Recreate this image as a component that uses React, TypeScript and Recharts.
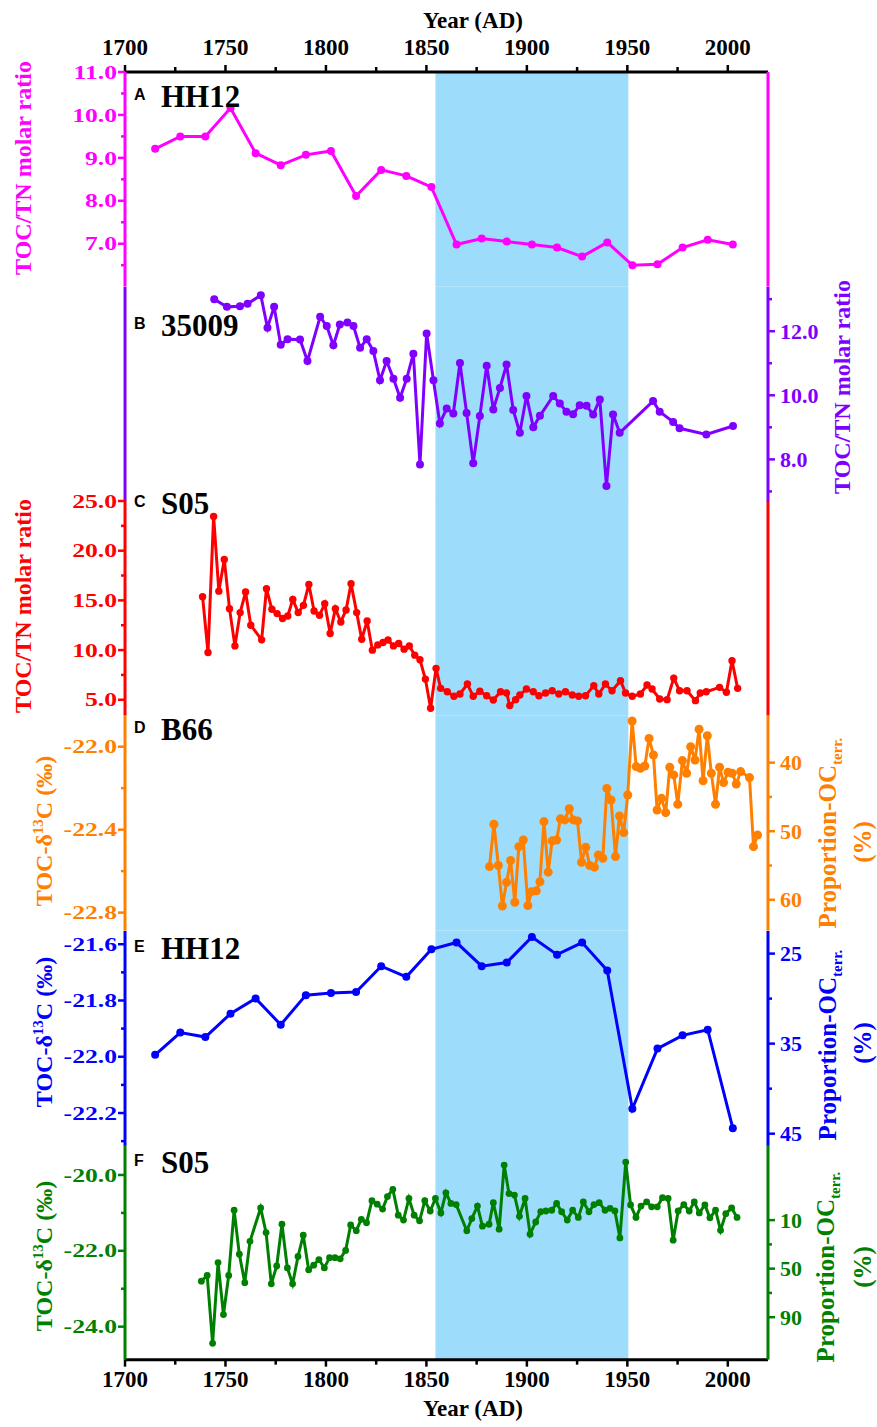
import React from "react";
import { LineChart, Line, XAxis, YAxis, ReferenceArea } from "recharts";

// Six stacked panels sharing one year axis (1700-2020)

const SERIF = "'Times New Roman', 'Liberation Serif', serif";
const SANS = "Arial, 'Liberation Sans', sans-serif";

const PINK = "#FF00FF";
const PURPLE = "#8000FF";
const RED = "#FF0000";
const ORANGE = "#FF8000";
const BLUE = "#0000FF";
const GREEN = "#008000";
const SHADE = "#9ddcfa";

// HH12 core (panels A and E)
const hh12Years = [1715, 1727.5, 1740, 1752.5, 1765, 1777.5, 1790, 1802.5, 1815, 1827.5, 1840, 1852.5, 1865, 1877.5, 1890, 1902.5, 1915, 1927.5, 1940, 1952.5, 1965, 1977.5, 1990, 2002.5];
const hh12Ratio = [9.21, 9.5, 9.5, 10.16, 9.11, 8.83, 9.07, 9.16, 8.11, 8.72, 8.58, 8.32, 6.98, 7.12, 7.05, 6.98, 6.91, 6.7, 7.03, 6.5, 6.52, 6.91, 7.09, 6.98];
const hh12D13C = [-21.993, -21.914, -21.93, -21.847, -21.793, -21.886, -21.781, -21.773, -21.77, -21.678, -21.716, -21.618, -21.594, -21.678, -21.665, -21.574, -21.637, -21.594, -21.693, -22.185, -21.971, -21.924, -21.904, -22.254];

// 35009 core (panel B)
const c35009Years = [1744.4, 1750.7, 1757.2, 1761.0, 1767.6, 1770.9, 1774.2, 1777.5, 1780.9, 1787.1, 1790.8, 1797.1, 1800.4, 1803.7, 1806.9, 1810.7, 1813.7, 1817.0, 1820.3, 1823.6, 1826.9, 1830.2, 1833.6, 1836.9, 1840.2, 1843.5, 1846.8, 1850.1, 1853.5, 1856.7, 1860.1, 1863.4, 1866.7, 1870.0, 1873.3, 1876.6, 1880.0, 1883.3, 1886.6, 1889.9, 1893.2, 1896.5, 1899.8, 1903.2, 1906.5, 1913.1, 1916.4, 1919.7, 1923.0, 1926.3, 1929.7, 1933.0, 1936.3, 1939.6, 1942.9, 1946.2, 1962.8, 1966.1, 1972.8, 1976.0, 1989.3, 2002.6];
const c35009Ratio = [13.0, 12.76, 12.78, 12.86, 13.12, 12.11, 12.76, 11.58, 11.75, 11.74, 11.07, 12.45, 12.16, 11.56, 12.21, 12.27, 12.16, 11.48, 11.75, 11.38, 10.47, 11.07, 10.52, 9.92, 10.52, 11.3, 7.84, 11.93, 10.47, 9.12, 9.59, 9.43, 11.01, 9.45, 7.88, 9.35, 10.92, 9.56, 10.23, 10.96, 9.54, 8.83, 9.98, 9.0, 9.36, 9.98, 9.74, 9.49, 9.41, 9.69, 9.67, 9.4, 9.87, 7.17, 9.4, 8.83, 9.82, 9.49, 9.17, 8.97, 8.78, 9.04];

// S05 core, TOC/TN (panel C)
const s05RatioYears = [1738.6, 1741.3, 1744.1, 1746.7, 1749.4, 1752.0, 1754.7, 1757.3, 1760.0, 1762.6, 1768.0, 1770.4, 1773.1, 1775.7, 1778.4, 1781.0, 1783.5, 1786.2, 1788.8, 1791.5, 1794.1, 1796.8, 1799.4, 1802.1, 1804.7, 1807.4, 1810.0, 1812.5, 1815.3, 1817.8, 1820.5, 1823.1, 1825.8, 1828.4, 1830.9, 1833.6, 1836.2, 1838.9, 1841.5, 1844.2, 1846.8, 1849.5, 1852.1, 1854.8, 1857.1, 1860.4, 1863.7, 1866.7, 1870.4, 1873.3, 1876.6, 1880.0, 1883.3, 1886.9, 1889.9, 1891.5, 1894.4, 1896.5, 1899.8, 1903.2, 1906.0, 1909.3, 1912.6, 1915.9, 1919.2, 1922.6, 1925.8, 1929.2, 1933.3, 1935.8, 1939.1, 1942.4, 1946.6, 1949.1, 1952.4, 1956.5, 1959.8, 1962.3, 1966.1, 1969.8, 1973.1, 1976.0, 1979.7, 1983.9, 1986.3, 1989.3, 1995.9, 1999.3, 2002.1, 2004.9];
const s05Ratio = [15.37, 9.76, 23.45, 15.93, 19.11, 14.17, 10.42, 13.77, 15.84, 12.5, 11.03, 16.17, 14.1, 13.67, 13.17, 13.43, 15.1, 13.77, 14.5, 16.6, 13.93, 13.5, 14.67, 11.66, 14.17, 12.83, 14.03, 16.67, 13.77, 11.09, 12.93, 9.99, 10.52, 10.76, 11.02, 10.42, 10.66, 10.09, 10.42, 9.49, 9.02, 7.08, 4.15, 8.16, 6.15, 5.81, 5.35, 5.58, 6.58, 5.35, 5.85, 5.41, 4.98, 5.81, 5.68, 4.41, 5.01, 5.48, 6.08, 5.81, 5.41, 5.68, 5.91, 5.58, 5.81, 5.48, 5.35, 5.41, 6.41, 5.58, 6.58, 5.91, 6.92, 5.68, 5.35, 5.58, 6.48, 6.08, 5.08, 5.01, 7.18, 5.91, 5.91, 4.91, 5.68, 5.81, 6.25, 5.75, 8.92, 6.15];

// B66 core (panel D)
const b66Years = [1881.4, 1883.6, 1885.8, 1887.8, 1889.9, 1891.9, 1894.0, 1896.0, 1898.2, 1900.5, 1902.3, 1904.7, 1906.5, 1908.5, 1910.6, 1912.6, 1914.8, 1916.7, 1918.9, 1921.1, 1923.1, 1925.2, 1927.2, 1929.3, 1931.3, 1933.6, 1935.6, 1937.8, 1939.8, 1941.9, 1944.1, 1946.1, 1948.2, 1950.2, 1952.4, 1954.4, 1956.5, 1958.7, 1960.8, 1963.0, 1964.8, 1967.0, 1969.1, 1971.1, 1973.1, 1975.1, 1977.4, 1979.5, 1981.5, 1983.7, 1985.7, 1987.7, 1989.8, 1991.8, 1993.9, 1995.9, 1997.9, 2000.1, 2002.2, 2004.2, 2006.4, 2010.8, 2012.8, 2014.8];
const b66D13C = [-22.578, -22.374, -22.573, -22.768, -22.654, -22.549, -22.75, -22.482, -22.45, -22.766, -22.699, -22.695, -22.651, -22.361, -22.605, -22.454, -22.45, -22.348, -22.353, -22.299, -22.353, -22.358, -22.557, -22.485, -22.573, -22.581, -22.522, -22.538, -22.201, -22.257, -22.53, -22.334, -22.414, -22.233, -21.876, -22.096, -22.104, -22.093, -21.96, -22.04, -22.305, -22.249, -22.318, -22.099, -22.136, -22.278, -22.067, -22.128, -22.0, -22.064, -21.916, -22.164, -21.947, -22.128, -22.278, -22.099, -22.173, -22.123, -22.128, -22.18, -22.12, -22.149, -22.482, -22.426];

// S05 core, TOC-d13C (panel F)
const s05D13CYears = [1738.0, 1740.9, 1743.6, 1746.3, 1749.0, 1751.6, 1754.3, 1756.9, 1759.6, 1762.2, 1767.5, 1770.2, 1772.8, 1775.5, 1778.1, 1780.8, 1783.4, 1786.1, 1788.7, 1791.4, 1793.9, 1796.5, 1799.2, 1801.8, 1804.5, 1807.1, 1809.8, 1812.3, 1815.1, 1817.6, 1820.2, 1822.9, 1825.5, 1828.2, 1830.6, 1833.3, 1836.0, 1838.6, 1841.3, 1843.9, 1846.6, 1849.2, 1851.9, 1854.5, 1857.2, 1859.7, 1862.2, 1864.8, 1870.1, 1872.6, 1875.4, 1877.9, 1881.2, 1883.3, 1886.2, 1888.7, 1891.1, 1893.8, 1896.3, 1899.1, 1901.6, 1904.4, 1906.9, 1909.5, 1912.4, 1914.8, 1917.3, 1920.1, 1922.8, 1925.6, 1928.1, 1930.9, 1933.4, 1936.0, 1938.9, 1941.4, 1943.8, 1946.3, 1949.2, 1951.6, 1954.3, 1956.8, 1959.6, 1962.1, 1964.9, 1967.5, 1970.3, 1972.8, 1975.3, 1978.1, 1980.8, 1983.3, 1985.8, 1988.6, 1991.1, 1993.9, 1996.4, 1999.0, 2001.9, 2004.6];
const s05D13C = [-22.8, -22.65, -24.44, -22.31, -23.68, -22.65, -20.93, -22.09, -22.84, -21.75, -20.87, -21.52, -22.87, -22.4, -21.3, -22.45, -22.87, -22.15, -21.59, -22.5, -22.38, -22.23, -22.45, -22.18, -22.18, -22.21, -21.99, -21.32, -21.47, -21.17, -21.26, -20.68, -20.77, -20.9, -20.57, -20.38, -21.06, -21.19, -20.62, -21.06, -21.21, -20.68, -20.95, -20.62, -21.0, -20.47, -20.75, -20.78, -21.47, -21.15, -20.82, -21.35, -21.3, -20.73, -21.43, -19.74, -20.49, -20.53, -21.09, -20.62, -21.56, -21.24, -20.97, -20.95, -20.93, -20.75, -20.97, -21.19, -20.93, -21.12, -20.71, -20.97, -20.78, -20.73, -20.93, -20.88, -20.95, -21.66, -19.66, -20.79, -21.12, -20.82, -20.71, -20.84, -20.84, -20.6, -20.62, -21.72, -20.95, -20.78, -20.95, -20.71, -21.0, -20.79, -21.13, -20.93, -21.46, -21.02, -20.87, -21.12];

const yearTicks = [1700, 1725, 1750, 1775, 1800, 1825, 1850, 1875, 1900, 1925, 1950, 1975, 2000];
const shadeFrom = 1854.5;
const shadeTo = 1950.5;

const toRows = (years: number[], vals: number[]) => years.map((year, i) => ({ year, v: vals[i] }));

const PLOT_TOP = 72;
const PH = 1288 / 6;
const LEFT_W = 125;
const RIGHT_W = 109;

type AxisCfg = { domain: number[]; major: number[]; minor: number[]; digits: number; reversed?: boolean } | null;

function YTick(props: any) {
  const { x, y, payload, side, color, major, digits } = props;
  const v = payload.value;
  const isMajor = major.some((m: number) => Math.abs(m - v) < 1e-6);
  const dir = side === "left" ? -1 : 1;
  const len = isMajor ? 7 : 4;
  const label = v.toFixed(digits);
  return (
    <g>
      <line x1={x} x2={x + dir * len} y1={y} y2={y} stroke={color} strokeWidth={2.5} />
      {isMajor &&
        (side === "left" ? (
          <text
            transform={`translate(${x - 8},${y}) scale(1.35,1)`}
            textAnchor="end"
            dy="0.35em"
            fill={color}
            fontFamily={SERIF}
            fontWeight="bold"
            fontSize={19}
          >
            {label}
          </text>
        ) : (
          <text x={x + 12} y={y} dy="0.35em" textAnchor="start" fill={color} fontFamily={SERIF} fontWeight="bold" fontSize={22}>
            {label}
          </text>
        ))}
    </g>
  );
}

function XTick(props: any) {
  const { x, y, payload, side } = props;
  const v = payload.value;
  const isMajor = v % 50 === 0;
  const dir = side === "top" ? -1 : 1;
  const len = isMajor ? 7 : 5;
  return (
    <g>
      <line x1={x} x2={x} y1={y} y2={y + dir * len} stroke="#000" strokeWidth={2.5} />
      {isMajor && (
        <text x={x} y={side === "top" ? y - 17 : y + 27} textAnchor="middle" fill="#000" fontFamily={SERIF} fontWeight="bold" fontSize={23}>
          {v}
        </text>
      )}
    </g>
  );
}

function Panel({ top, height, color, data, L, R, dataAxis, xSide, dotR }: any) {
  const axis = (id: string, side: "left" | "right", cfg: AxisCfg) => (
    <YAxis
      yAxisId={id}
      orientation={side}
      width={side === "left" ? LEFT_W : RIGHT_W}
      type="number"
      domain={cfg ? cfg.domain : [0, 1]}
      reversed={cfg ? !!cfg.reversed : false}
      allowDataOverflow
      ticks={cfg ? [...cfg.major, ...cfg.minor].sort((a, b) => a - b) : undefined}
      interval={0}
      tickSize={0}
      tickMargin={0}
      tickLine={false}
      axisLine={{ stroke: color, strokeWidth: 3 }}
      tick={cfg ? (p: any) => <YTick {...p} side={side} color={color} major={cfg.major} digits={cfg.digits} /> : false}
    />
  );
  return (
    <div style={{ position: "absolute", left: 0, top, width: 877, height }}>
      <LineChart width={877} height={height} data={data} margin={{ top: 0, right: 0, bottom: 0, left: 0 }}>
        <XAxis
          dataKey="year"
          type="number"
          domain={[1700, 2020]}
          allowDataOverflow
          ticks={yearTicks}
          interval={0}
          hide={!xSide}
          orientation={xSide === "top" ? "top" : "bottom"}
          height={xSide === "top" ? 72 : 67}
          tickSize={0}
          tickMargin={0}
          tickLine={false}
          axisLine={{ stroke: "#000", strokeWidth: 3 }}
          tick={(p: any) => <XTick {...p} side={xSide} />}
        />
        {axis("L", "left", L)}
        {axis("R", "right", R)}
        <ReferenceArea yAxisId={dataAxis} x1={shadeFrom} x2={shadeTo} fill={SHADE} fillOpacity={1} stroke="none" />
        <Line
          yAxisId={dataAxis}
          type="linear"
          dataKey="v"
          stroke={color}
          strokeWidth={3}
          dot={{ r: dotR, fill: color, stroke: color, strokeWidth: 0 }}
          activeDot={false}
          isAnimationActive={false}
        />
      </LineChart>
    </div>
  );
}

const panelTop = (i: number) => PLOT_TOP + i * PH;

function Rot({ x, y, color, size = 24, children }: any) {
  return (
    <text transform={`translate(${x},${y}) rotate(-90)`} textAnchor="middle" fill={color} fontFamily={SERIF} fontWeight="bold" fontSize={size}>
      {children}
    </text>
  );
}

const d13cTitle = (
  <>
    TOC-δ<tspan fontSize={15} dy={-9}>13</tspan>
    <tspan dy={9}>C (‰)</tspan>
  </>
);
const propTitle = (
  <>
    Proportion-OC<tspan fontSize={15} dy={6}>terr.</tspan>
  </>
);

function PanelLabel({ y, letter, name }: any) {
  return (
    <g>
      <text x={134} y={y} fontFamily={SANS} fontWeight="bold" fontSize={16} fill="#000">
        {letter}
      </text>
      <text x={161} y={y + 7} fontFamily={SERIF} fontWeight="bold" fontSize={31} fill="#000">
        {name}
      </text>
    </g>
  );
}

export default function App() {
  return (
    <div style={{ position: "absolute", left: 0, top: 0, width: 877, height: 1427, background: "#fff" }}>
      <style>{`.recharts-surface{overflow:visible}`}</style>
      <Panel
        top={0}
        height={PLOT_TOP + PH}
        color={PINK}
        data={toRows(hh12Years, hh12Ratio)}
        L={{ domain: [6, 11], major: [7, 8, 9, 10, 11], minor: [6.5, 7.5, 8.5, 9.5, 10.5], digits: 1 }}
        R={null}
        dataAxis="L"
        xSide="top"
        dotR={4}
      />
      <Panel
        top={panelTop(1)}
        height={PH}
        color={PURPLE}
        data={toRows(c35009Years, c35009Ratio)}
        L={null}
        R={{ domain: [6.68, 13.38], major: [8, 10, 12], minor: [7, 9, 11, 13], digits: 1 }}
        dataAxis="R"
        xSide={null}
        dotR={4}
      />
      <Panel
        top={panelTop(2)}
        height={PH}
        color={RED}
        data={toRows(s05RatioYears, s05Ratio)}
        L={{ domain: [3.4, 25], major: [5, 10, 15, 20, 25], minor: [7.5, 12.5, 17.5, 22.5], digits: 1 }}
        R={null}
        dataAxis="L"
        xSide={null}
        dotR={3.7}
      />
      <Panel
        top={panelTop(3)}
        height={PH}
        color={ORANGE}
        data={toRows(b66Years, b66D13C)}
        L={{ domain: [-22.887, -21.852], major: [-22.8, -22.4, -22.0], minor: [-22.6, -22.2], digits: 1 }}
        R={{ domain: [33.2, 64.5], reversed: true, major: [40, 50, 60], minor: [45, 55], digits: 0 }}
        dataAxis="L"
        xSide={null}
        dotR={4.5}
      />
      <Panel
        top={panelTop(4)}
        height={PH}
        color={BLUE}
        data={toRows(hh12Years, hh12D13C)}
        L={{ domain: [-22.316, -21.553], major: [-22.2, -22.0, -21.8, -21.6], minor: [-22.3, -22.1, -21.9, -21.7], digits: 1 }}
        R={{ domain: [22.49, 46.33], reversed: true, major: [25, 35, 45], minor: [30, 40], digits: 0 }}
        dataAxis="L"
        xSide={null}
        dotR={4}
      />
      <Panel
        top={panelTop(5)}
        height={1427 - panelTop(5)}
        color={GREEN}
        data={toRows(s05D13CYears, s05D13C)}
        L={{ domain: [-24.87, -19.21], major: [-24, -22, -20], minor: [-23, -21], digits: 1 }}
        R={{ domain: [-51.9, 125], reversed: true, major: [10, 50, 90], minor: [30, 70], digits: 0 }}
        dataAxis="L"
        xSide="bottom"
        dotR={3.4}
      />
      <svg width={877} height={1427} style={{ position: "absolute", left: 0, top: 0, pointerEvents: "none" }}>
        <text x={473} y={28} textAnchor="middle" fontFamily={SERIF} fontWeight="bold" fontSize={23}>
          Year (AD)
        </text>
        <text x={473} y={1416} textAnchor="middle" fontFamily={SERIF} fontWeight="bold" fontSize={23}>
          Year (AD)
        </text>

        <Rot x={31} y={168} color={PINK}>TOC/TN molar ratio</Rot>
        <Rot x={850} y={387} color={PURPLE}>TOC/TN molar ratio</Rot>
        <Rot x={31} y={606} color={RED}>TOC/TN molar ratio</Rot>
        <Rot x={52} y={831} color={ORANGE}>{d13cTitle}</Rot>
        <Rot x={52} y={1032} color={BLUE}>{d13cTitle}</Rot>
        <Rot x={52} y={1256} color={GREEN}>{d13cTitle}</Rot>

        <Rot x={836} y={833} color={ORANGE} size={25}>{propTitle}</Rot>
        <Rot x={871} y={842} color={ORANGE} size={25}>(%)</Rot>
        <Rot x={836} y={1045} color={BLUE} size={25}>{propTitle}</Rot>
        <Rot x={871} y={1043} color={BLUE} size={25}>(%)</Rot>
        <Rot x={834} y={1267} color={GREEN} size={25}>{propTitle}</Rot>
        <Rot x={871} y={1267} color={GREEN} size={25}>(%)</Rot>

        <PanelLabel y={100} letter="A" name="HH12" />
        <PanelLabel y={329} letter="B" name="35009" />
        <PanelLabel y={507} letter="C" name="S05" />
        <PanelLabel y={733} letter="D" name="B66" />
        <PanelLabel y={952} letter="E" name="HH12" />
        <PanelLabel y={1166} letter="F" name="S05" />
      </svg>
    </div>
  );
}
